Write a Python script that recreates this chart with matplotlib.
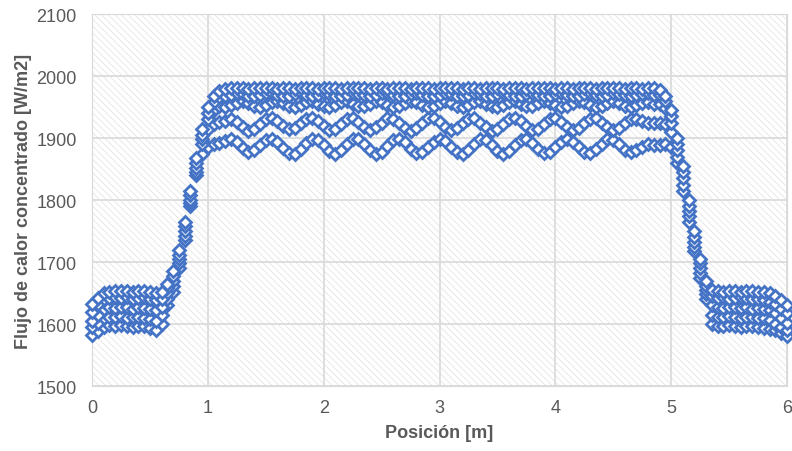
import numpy as np
import matplotlib
matplotlib.use("Agg")
import matplotlib.pyplot as plt
from matplotlib.patches import Rectangle

plt.rcParams['font.family'] = ['Liberation Sans', 'DejaVu Sans']
plt.rcParams['hatch.linewidth'] = 0.6

# posiciones de muestreo [m]
x_pos = np.linspace(0, 6, 121)

serie_a = [1632, 1642, 1650, 1652, 1654, 1653, 1654, 1652, 1653, 1654, 1652, 1650, 1652,
           1665, 1685, 1720, 1765, 1815, 1868, 1915, 1950, 1968, 1976,
           1979, 1980, 1981, 1980, 1979, 1980, 1981, 1980, 1980, 1979, 1981, 1980, 1979, 1980, 1981,
           1980, 1979, 1980, 1981, 1980, 1979, 1980, 1981, 1980, 1980, 1979, 1981, 1980, 1979, 1980,
           1981, 1980, 1979, 1980, 1981, 1980, 1979, 1980, 1981, 1980, 1980, 1979, 1981, 1980, 1979,
           1980, 1981, 1980, 1979, 1980, 1981, 1980, 1979, 1980, 1981, 1980, 1980, 1979, 1981, 1980,
           1979, 1980, 1981, 1980, 1979, 1980, 1981, 1980, 1980, 1979, 1981, 1980, 1979, 1980, 1980,
           1978, 1968, 1945, 1900, 1855, 1800, 1750, 1705, 1670,
           1655, 1653, 1652, 1654, 1653, 1652, 1654, 1653, 1652, 1651, 1650, 1645, 1638, 1630]

serie_b = [1620, 1632, 1640, 1642, 1643, 1642, 1644, 1641, 1642, 1643, 1640, 1638, 1640,
           1658, 1678, 1712, 1758, 1808, 1860, 1905, 1940, 1958, 1966,
           1968, 1970, 1972, 1971, 1968, 1967, 1969, 1972, 1973, 1970, 1967, 1968, 1971, 1972, 1970,
           1968, 1969, 1972, 1971, 1968, 1967, 1970, 1972, 1971, 1969, 1967, 1969, 1972, 1972, 1969,
           1967, 1968, 1971, 1973, 1970, 1968, 1967, 1970, 1972, 1971, 1968, 1967, 1970, 1972, 1971,
           1968, 1968, 1971, 1972, 1970, 1967, 1968, 1971, 1973, 1970, 1968, 1968, 1971, 1972, 1970,
           1967, 1968, 1971, 1972, 1970, 1968, 1969, 1972, 1971, 1969, 1967, 1969, 1971, 1972, 1970,
           1970, 1960, 1935, 1890, 1845, 1790, 1740, 1698, 1662,
           1645, 1642, 1643, 1641, 1642, 1643, 1642, 1641, 1640, 1639, 1636, 1632, 1625, 1618]

serie_c = [1605, 1615, 1625, 1628, 1626, 1627, 1628, 1625, 1627, 1626, 1624, 1622, 1628,
           1650, 1670, 1705, 1750, 1800, 1852, 1898, 1930, 1945, 1952,
           1950, 1953, 1957, 1959, 1956, 1951, 1950, 1954, 1958, 1960, 1956, 1952, 1950, 1953, 1958,
           1959, 1955, 1951, 1950, 1954, 1958, 1959, 1955, 1951, 1951, 1955, 1959, 1958, 1954, 1950,
           1951, 1956, 1959, 1958, 1953, 1950, 1952, 1957, 1960, 1957, 1952, 1950, 1953, 1958, 1959,
           1955, 1951, 1950, 1954, 1958, 1959, 1955, 1951, 1951, 1956, 1959, 1957, 1953, 1950, 1952,
           1956, 1959, 1958, 1953, 1950, 1952, 1956, 1959, 1957, 1952, 1950, 1953, 1957, 1958, 1955,
           1955, 1948, 1925, 1880, 1835, 1782, 1732, 1690, 1655,
           1630, 1628, 1626, 1627, 1628, 1626, 1627, 1625, 1626, 1624, 1622, 1618, 1610, 1602]

serie_d = [1595, 1602, 1610, 1612, 1611, 1613, 1610, 1612, 1611, 1610, 1608, 1605, 1615,
           1640, 1662, 1698, 1742, 1795, 1845, 1890, 1915, 1922, 1926,
           1928, 1930, 1926, 1918, 1912, 1915, 1922, 1930, 1933, 1928, 1920, 1914, 1916, 1924, 1931,
           1933, 1927, 1919, 1913, 1915, 1923, 1930, 1932, 1926, 1918, 1913, 1917, 1925, 1932, 1931,
           1924, 1916, 1912, 1916, 1925, 1932, 1933, 1926, 1918, 1913, 1916, 1924, 1931, 1932, 1925,
           1917, 1912, 1915, 1923, 1931, 1933, 1927, 1919, 1913, 1915, 1923, 1930, 1932, 1926, 1918,
           1913, 1916, 1924, 1931, 1932, 1925, 1917, 1913, 1916, 1924, 1930, 1931, 1928, 1924, 1925,
           1925, 1922, 1910, 1870, 1825, 1775, 1725, 1682, 1648,
           1615, 1612, 1611, 1613, 1612, 1610, 1611, 1612, 1610, 1609, 1606, 1600, 1595, 1590]

serie_e = [1582, 1588, 1595, 1598, 1596, 1598, 1597, 1595, 1597, 1596, 1593, 1590, 1600,
           1630, 1652, 1690, 1735, 1790, 1840, 1875, 1885, 1890, 1892,
           1895, 1898, 1893, 1884, 1878, 1880, 1888, 1896, 1899, 1893, 1884, 1876, 1874, 1882, 1892,
           1899, 1897, 1888, 1879, 1875, 1880, 1890, 1898, 1898, 1890, 1880, 1875, 1878, 1887, 1896,
           1899, 1893, 1883, 1876, 1877, 1885, 1894, 1899, 1895, 1885, 1877, 1875, 1881, 1891, 1898,
           1897, 1888, 1879, 1875, 1879, 1889, 1897, 1899, 1892, 1882, 1876, 1877, 1885, 1894, 1899,
           1894, 1885, 1877, 1876, 1882, 1891, 1898, 1897, 1890, 1881, 1877, 1880, 1886, 1890, 1889,
           1888, 1890, 1885, 1860, 1815, 1765, 1718, 1675, 1640,
           1600, 1597, 1596, 1598, 1597, 1595, 1596, 1597, 1595, 1594, 1592, 1590, 1585, 1580]

y_ticks = [1500, 1600, 1700, 1800, 1900, 2000, 2100]
x_ticks = [0, 1, 2, 3, 4, 5, 6]

fig = plt.figure(figsize=(7.92, 4.52), dpi=100)
ax = fig.add_axes([0.1162, 0.1438, 0.8775, 0.823])

# fondo rayado
fondo = Rectangle((0, 0), 1, 1, transform=ax.transAxes, facecolor='white',
                  edgecolor='#e4e4e4', hatch='\\\\\\\\\\', lw=0, zorder=0)
ax.add_patch(fondo)

for serie in [serie_e, serie_d, serie_c, serie_b, serie_a]:
    ax.plot(x_pos, serie, linestyle='none', marker='D', markersize=6.3,
            markerfacecolor='white', markeredgecolor='#4472C4',
            markeredgewidth=2.0, zorder=3, clip_on=False)

ax.set_xlim(0, 6)
ax.set_ylim(1500, 2100)
ax.set_xticks(x_ticks)
ax.set_yticks(y_ticks)
ax.grid(True, color='#d9d9d9', lw=1.2, zorder=1)
ax.set_axisbelow(True)
for s in ax.spines.values():
    s.set_color('#d9d9d9')
ax.tick_params(length=0, labelsize=13, labelcolor='#595959')
ax.tick_params(axis='y', pad=11)
ax.tick_params(axis='x', pad=9)

ax.set_xlabel('Posición [m]', fontsize=13, fontweight='bold', color='#595959', labelpad=6)
ax.set_ylabel('Flujo de calor concentrado [W/m2]', fontsize=13, fontweight='bold',
              color='#595959', labelpad=3)

fig.savefig('out.png', dpi=100)
